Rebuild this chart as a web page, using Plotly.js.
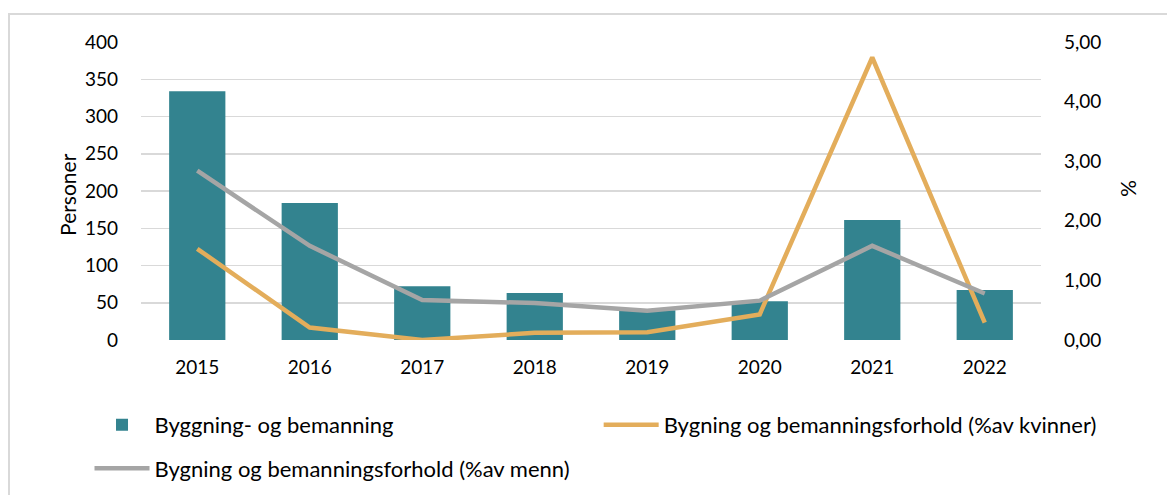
<!DOCTYPE html>
<html>
<head>
<meta charset="utf-8">
<script src="https://cdn.plot.ly/plotly-3.0.1.min.js"></script>
<style>
  html, body { margin:0; padding:0; background:#fff; }
  #wrap { position:relative; width:1167px; height:495px; overflow:hidden; }
  #frame { position:absolute; left:8px; top:13px; width:1300px; height:600px; border-left:2px solid #d9d9d9; border-top:2px solid #d9d9d9; pointer-events:none; }
  #chart { position:absolute; left:0; top:0; width:1167px; height:495px; }
</style>
</head>
<body>
<div id="wrap">
  <div id="chart"></div>
  <div id="frame"></div>
</div>
<script>
const years = ['2015','2016','2017','2018','2019','2020','2021','2022'];
const persons = [334, 184, 72, 63, 40, 52, 161, 67];
const pctWomen = [1.53, 0.21, 0.00, 0.12, 0.13, 0.43, 4.74, 0.29];
const pctMen = [2.84, 1.58, 0.67, 0.62, 0.49, 0.66, 1.58, 0.78];
const leftTicks = [0, 50, 100, 150, 200, 250, 300, 350, 400];
const rightTicks = [0, 1, 2, 3, 4, 5];
const leftTitle = 'Personer';
const rightTitle = '%';

const FONT = 'Lato, "Open Sans", sans-serif';
const LEGFONT = { family: FONT, size: 22, color: '#000' };

const traces = [
  {
    type: 'bar', x: years, y: persons, name: 'Byggning- og bemanning',
    marker: { color: '#33838f' }, yaxis: 'y', legend: 'legend', legendgroup: 'a'
  },
  {
    type: 'scatter', mode: 'lines', x: years, y: pctWomen,
    name: 'Bygning og bemanningsforhold (%av kvinner)',
    line: { color: '#e3ad5b', width: 4.5 }, yaxis: 'y2', legend: 'legend2', legendgroup: 'b'
  },
  {
    type: 'scatter', mode: 'lines', x: years, y: pctMen,
    name: 'Bygning og bemanningsforhold (%av menn)',
    line: { color: '#a5a5a5', width: 4.5 }, yaxis: 'y2', legend: 'legend', legendgroup: 'c'
  }
];

const layout = {
  width: 1167, height: 495,
  margin: { l: 141, r: 126, t: 42, b: 155, pad: 0, autoexpand: false },
  paper_bgcolor: 'rgba(0,0,0,0)', plot_bgcolor: '#fff',
  font: { family: FONT, size: 19, color: '#000' },
  separators: ',.',
  bargap: 0.5,
  showlegend: true,
  legend: {
    orientation: 'v', xref: 'container', yref: 'container',
    x: 0.0767, y: 0.184, xanchor: 'left', yanchor: 'top',
    font: LEGFONT, traceorder: 'grouped', itemwidth: 55, tracegroupgap: 12,
    bgcolor: 'rgba(0,0,0,0)'
  },
  legend2: {
    orientation: 'v', xref: 'container', yref: 'container',
    x: 0.513, y: 0.184, xanchor: 'left', yanchor: 'top',
    font: LEGFONT, itemwidth: 55, bgcolor: 'rgba(0,0,0,0)'
  },
  xaxis: {
    type: 'category', showgrid: false, zeroline: false, showline: false,
    ticks: '', tickfont: { family: FONT, size: 19 }, ticklabelstandoff: 14
  },
  yaxis: {
    range: [0, 400], tickvals: leftTicks, showline: false, zeroline: false,
    gridcolor: '#d9d9d9', gridwidth: 1.5, ticks: '',
    tickfont: { family: FONT, size: 19 }, ticklabelstandoff: 22
  },
  yaxis2: {
    overlaying: 'y', side: 'right', range: [0, 5], tickvals: rightTicks,
    tickformat: '.2f', showgrid: false, zeroline: false, showline: false, ticks: '',
    tickfont: { family: FONT, size: 19 }, ticklabelstandoff: 22
  },
  annotations: [
    { text: leftTitle, xref: 'paper', yref: 'paper', x: -0.0811, y: 0.487,
      xanchor: 'center', yanchor: 'middle', textangle: -90, showarrow: false,
      font: { family: FONT, size: 21, color: '#000' } },
    { text: rightTitle, xref: 'paper', yref: 'paper', x: 1.099, y: 0.51,
      xanchor: 'center', yanchor: 'middle', textangle: 90, showarrow: false,
      font: { family: FONT, size: 21, color: '#000' } }
  ]
};

Plotly.newPlot('chart', traces, layout, { displayModeBar: false, staticPlot: true });
</script>
</body>
</html>
